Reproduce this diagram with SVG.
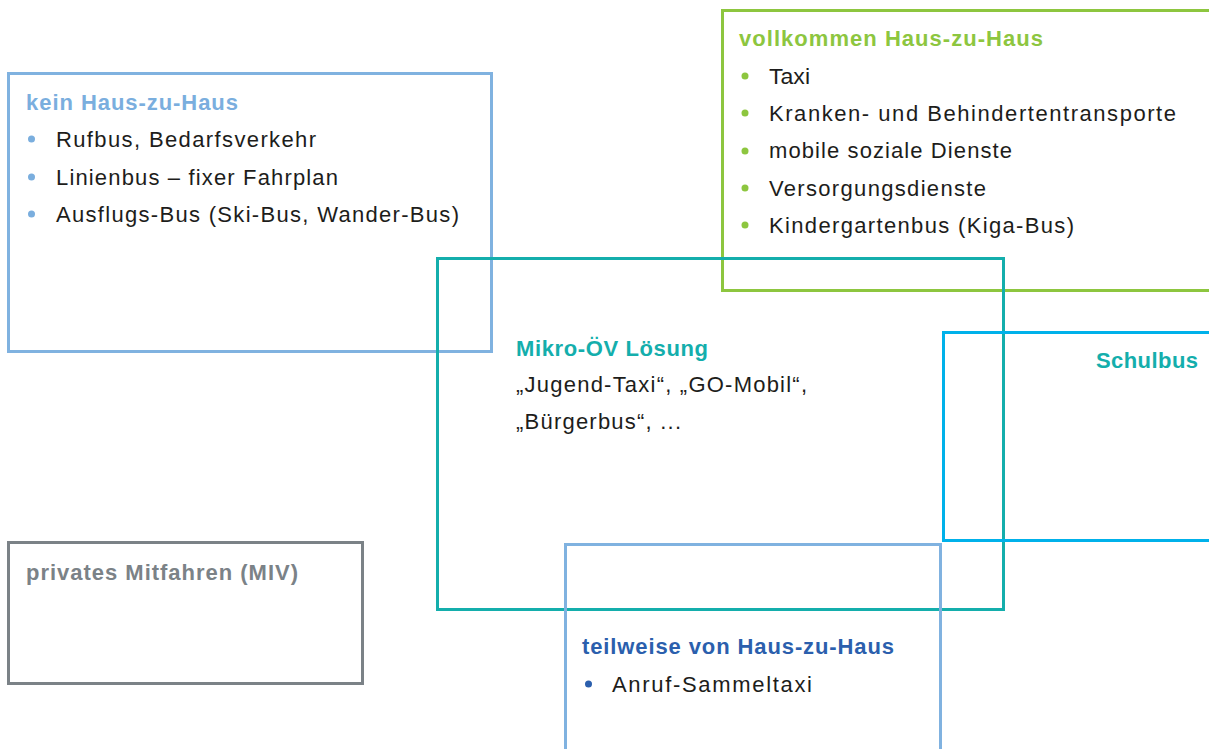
<svg xmlns="http://www.w3.org/2000/svg" width="1209" height="749" viewBox="0 0 1209 749">
<style>
.box{fill:none;stroke-width:3}
.t{font-family:"Liberation Sans",Arial,sans-serif;font-size:22px;font-weight:bold}
.b{font-family:"Liberation Sans",Arial,sans-serif;font-size:22px;fill:#1d1d1b}
</style>
<rect width="1209" height="749" fill="#fff"/>
<g id="kein">
<rect class="box" x="8.5" y="73.5" width="483" height="278" stroke="#80b2e0"/>
<text class="t" x="26" y="110" fill="#7aaede" textLength="212" lengthAdjust="spacing">kein Haus-zu-Haus</text>
<g fill="#7aaede"><circle cx="31.5" cy="139" r="3.5"/><circle cx="31.5" cy="177" r="3.5"/><circle cx="31.5" cy="214" r="3.5"/></g>
<text class="b" x="56" y="147" textLength="260" lengthAdjust="spacing">Rufbus, Bedarfsverkehr</text>
<text class="b" x="56" y="185" textLength="282" lengthAdjust="spacing">Linienbus – fixer Fahrplan</text>
<text class="b" x="56" y="222" textLength="403" lengthAdjust="spacing">Ausflugs-Bus (Ski-Bus, Wander-Bus)</text>
</g>
<g id="vollkommen">
<rect class="box" x="722.5" y="10.5" width="490" height="280" stroke="#8dc63f"/>
<text class="t" x="739" y="46" fill="#8dc63f" textLength="304" lengthAdjust="spacing">vollkommen Haus-zu-Haus</text>
<g fill="#8dc63f"><circle cx="745" cy="76" r="3.5"/><circle cx="745" cy="113" r="3.5"/><circle cx="745" cy="151" r="3.5"/><circle cx="745" cy="188" r="3.5"/><circle cx="745" cy="225" r="3.5"/></g>
<text class="b" x="769" y="84" textLength="41" lengthAdjust="spacingAndGlyphs">Taxi</text>
<text class="b" x="769" y="121" textLength="407" lengthAdjust="spacing">Kranken- und Behindertentransporte</text>
<text class="b" x="769" y="158" textLength="243" lengthAdjust="spacing">mobile soziale Dienste</text>
<text class="b" x="769" y="196" textLength="217" lengthAdjust="spacing">Versorgungsdienste</text>
<text class="b" x="769" y="233" textLength="305" lengthAdjust="spacing">Kindergartenbus (Kiga-Bus)</text>
</g>
<g id="mikro">
<rect class="box" x="437.5" y="258.5" width="566" height="351" stroke="#14aeac"/>
<text class="t" x="516" y="356" fill="#14aeac" textLength="192" lengthAdjust="spacing">Mikro-ÖV Lösung</text>
<text class="b" x="516" y="392" textLength="291" lengthAdjust="spacing">„Jugend-Taxi“, „GO-Mobil“,</text>
<text class="b" x="516" y="429" textLength="165" lengthAdjust="spacing">„Bürgerbus“, ...</text>
</g>
<g id="schulbus">
<rect class="box" x="943.5" y="332.5" width="270" height="208" stroke="#00b1ea"/>
<text class="t" x="1096" y="368" fill="#14aeac" textLength="102" lengthAdjust="spacing">Schulbus</text>
</g>
<g id="privates">
<rect class="box" x="8.5" y="542.5" width="354" height="141" stroke="#7b8287"/>
<text class="t" x="26" y="580" fill="#7b8287" textLength="272" lengthAdjust="spacing">privates Mitfahren (MIV)</text>
</g>
<g id="teilweise">
<rect class="box" x="565.5" y="544.5" width="375" height="220" stroke="#80b2e0"/>
<text class="t" x="582" y="654" fill="#2b5fad" textLength="312" lengthAdjust="spacing">teilweise von Haus-zu-Haus</text>
<circle cx="588.5" cy="684" r="3.5" fill="#2b5fad"/>
<text class="b" x="612" y="692" textLength="200" lengthAdjust="spacing">Anruf-Sammeltaxi</text>
</g>
<g id="connectors"></g>
</svg>
